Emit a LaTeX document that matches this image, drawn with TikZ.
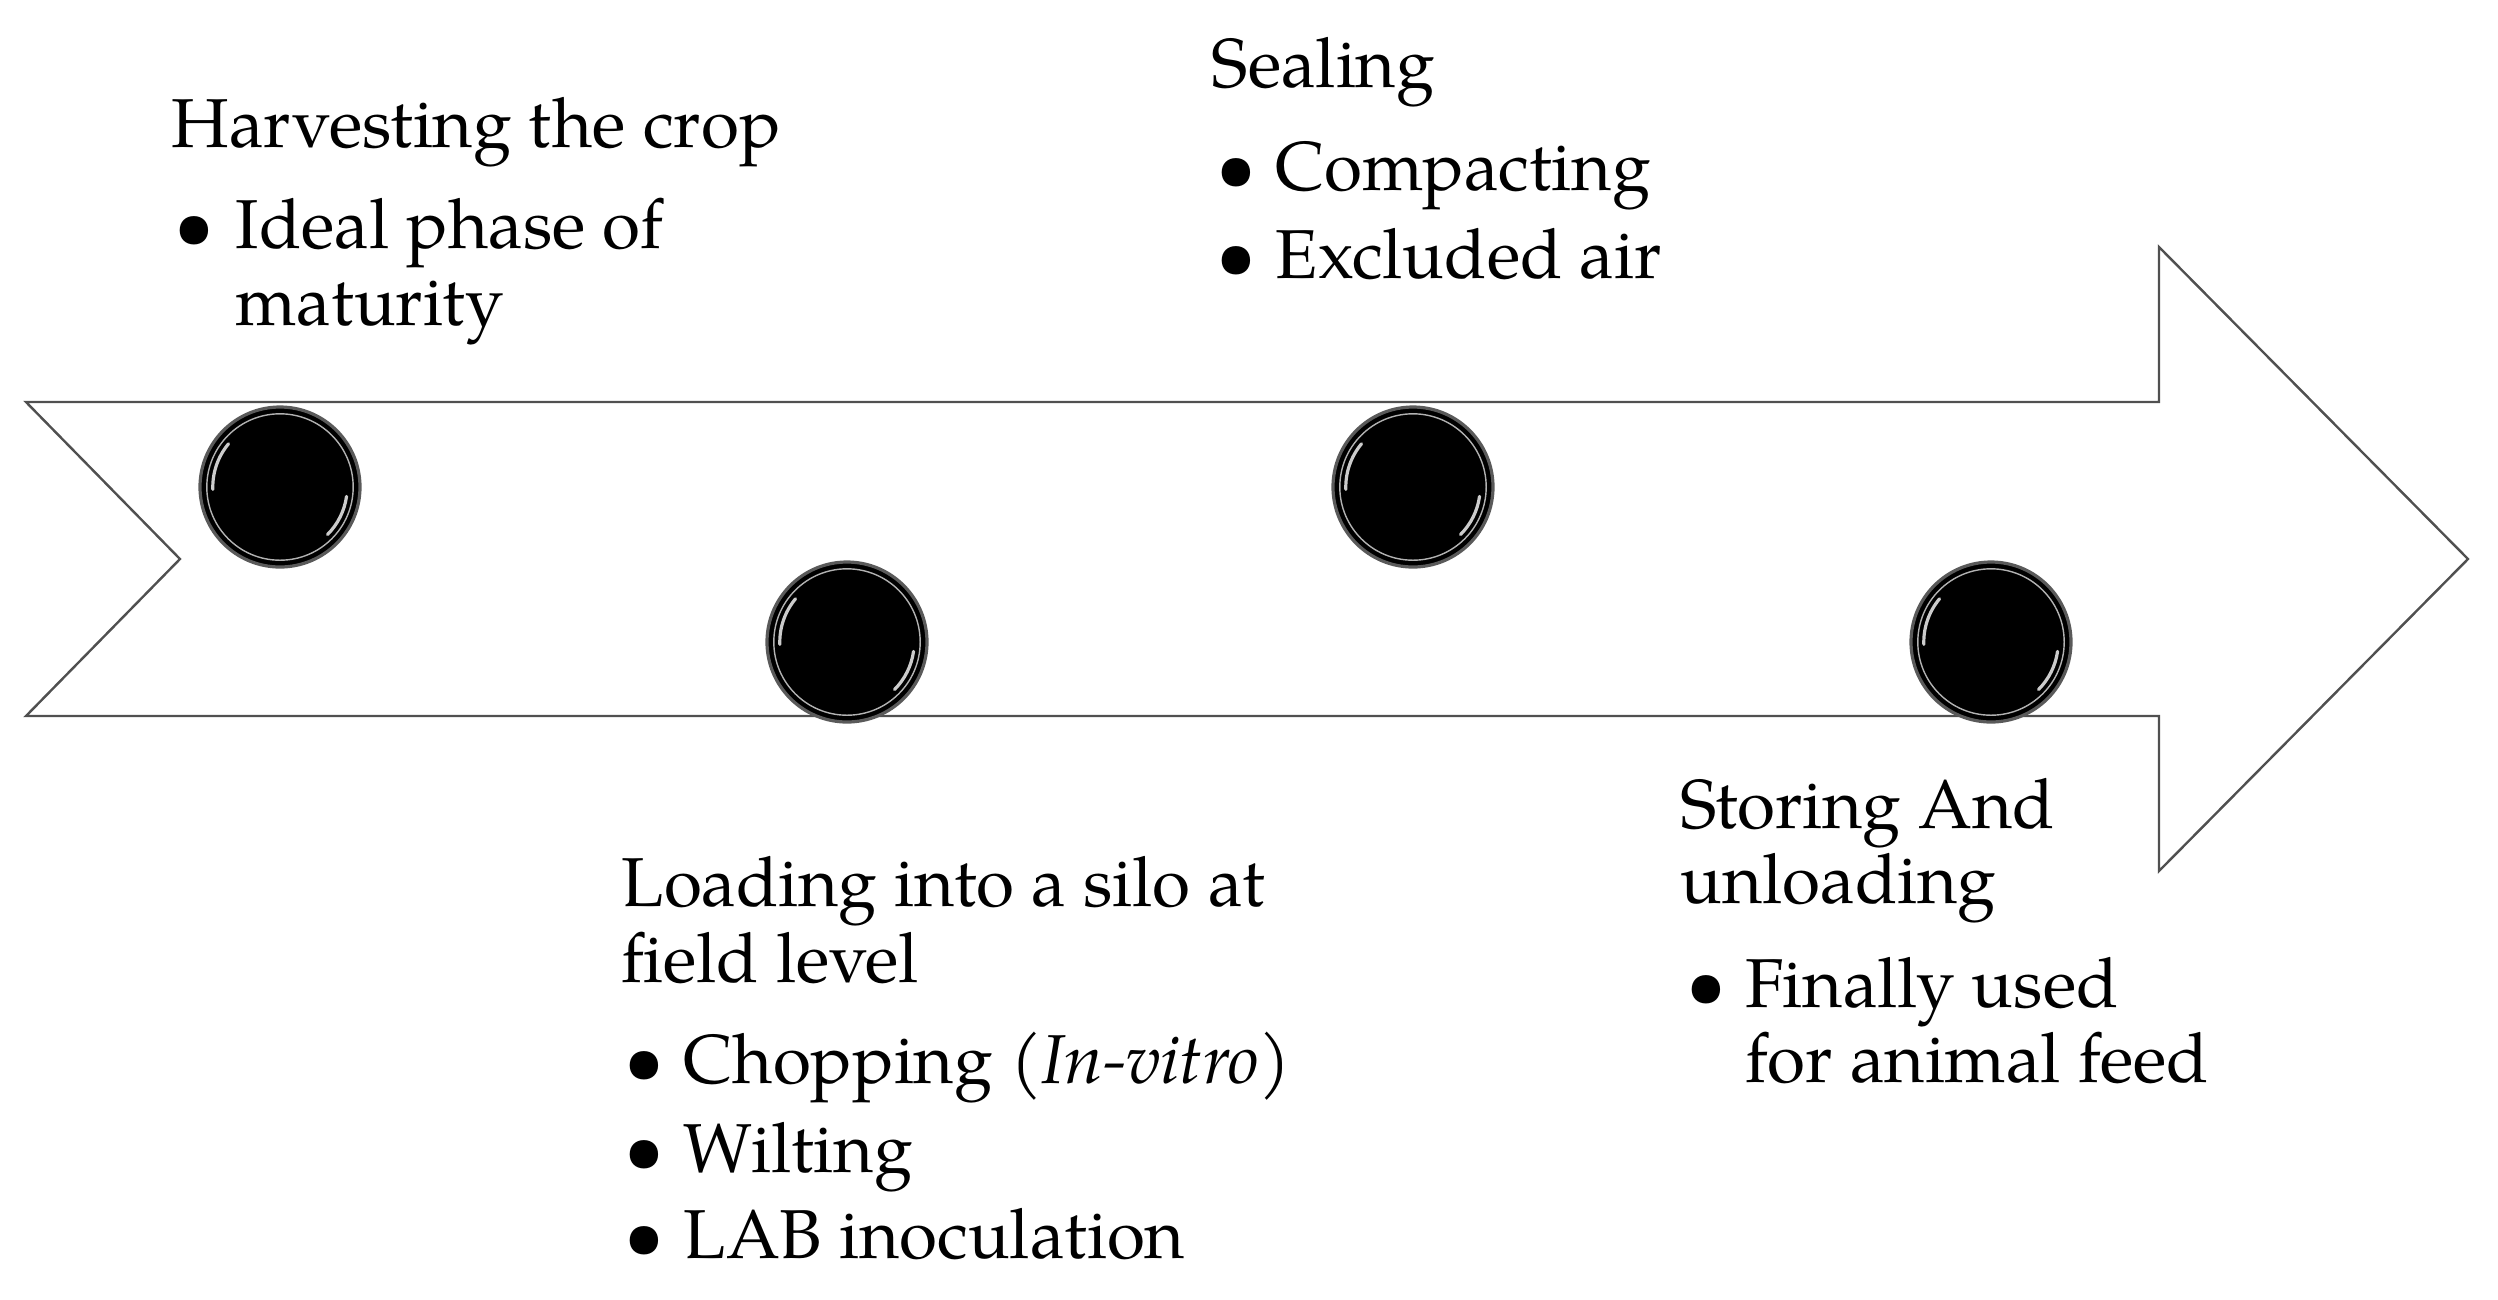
\documentclass[tikz,border=0pt]{standalone}
\usepackage{fontspec}
\setmainfont{texgyrepagella}[Extension=.otf, UprightFont=*-regular, ItalicFont=*-italic, BoldFont=*-bold, BoldItalicFont=*-bolditalic]
\definecolor{arrowgray}{RGB}{80,80,80}
\definecolor{ringgray}{RGB}{90,90,90}
\newcommand\mainsize{\fontsize{17.3}{19}\selectfont}
\newcommand\bulsize{\fontsize{17.75}{19}\selectfont}
\begin{document}
\begin{tikzpicture}[x=0.25pt,y=-0.25pt,
  outline/.style={draw=arrowgray, line width=0.6pt, line join=miter},
  dot/.style={circle, inner sep=0pt, minimum size=40pt, fill=black, draw=ringgray, line width=0.8pt,
    path picture={
      \draw[gray!60, line width=0.35pt] (path picture bounding box.center) circle (18.3pt);
      \draw[white, opacity=0.8, line width=0.8pt, line cap=round, shift={(path picture bounding box.center)}] (140:16.8pt) arc (140:182:16.8pt);
      \draw[white, opacity=0.8, line width=0.8pt, line cap=round, shift={(path picture bounding box.center)}] (-8:16.8pt) arc (-8:-45:16.8pt);
    }},
  txt/.style={anchor=base west, inner sep=0pt, font=\mainsize},
  bul/.style={anchor=base west, inner sep=0pt, font=\bulsize}]
\useasboundingbox (0,0) rectangle (2498,1299);
% big arrow
\draw[outline] (26,402) -- (2159,402) -- (2159,247) -- (2468,559) -- (2159,871) -- (2159,716) -- (26,716) -- (180,559) -- cycle;
% dots
\node[dot] (d1) at (280,487) {};
\node[dot] (d2) at (847,642) {};
\node[dot] (d3) at (1413,487) {};
\node[dot] (d4) at (1991,642) {};
% block 1
\node[txt] (t1) at (171,147) {Harvesting the crop};
\node[bul] (b1a) at (174,248) {\textbullet};
\node[txt] (t1a) at (235,248) {Ideal phase of};
\node[txt] (t1b) at (235,325) {maturity};
% block 2
\node[txt] (t2) at (621,906) {Loading into a silo at};
\node[txt] (t2l) at (621,982) {field level};
\node[bul] (b2a) at (624,1083) {\textbullet};
\node[txt] (t2a) at (683,1083) {Chopping (\textit{In-vitro})};
\node[bul] (b2b) at (624,1172) {\textbullet};
\node[txt] (t2b) at (683,1172) {Wilting};
\node[bul] (b2c) at (624,1258) {\textbullet};
\node[txt] (t2c) at (683,1258) {LAB inoculation};
% block 3
\node[txt] (t3) at (1211,87) {Sealing};
\node[bul] (b3a) at (1216,190) {\textbullet};
\node[txt] (t3a) at (1275,190) {Compacting};
\node[bul] (b3b) at (1216,278) {\textbullet};
\node[txt] (t3b) at (1275,278) {Excluded air};
% block 4
\node[txt] (t4) at (1680,828) {Storing And};
\node[txt] (t4l) at (1680,903) {unloading};
\node[bul] (b4a) at (1686,1007) {\textbullet};
\node[txt] (t4a) at (1745,1007) {Finally used};
\node[txt] (t4b) at (1745,1082) {for animal feed};
\end{tikzpicture}
\end{document}
